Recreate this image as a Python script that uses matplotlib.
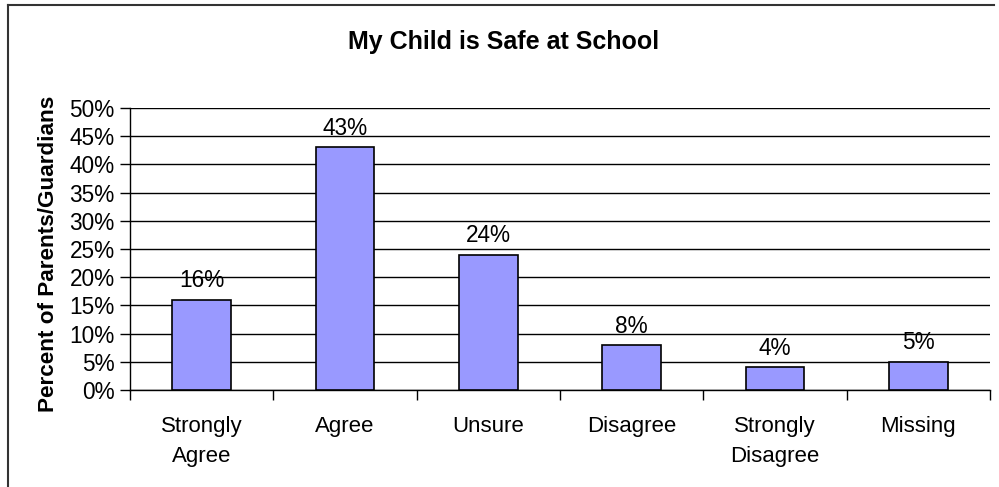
import matplotlib.pyplot as plt
from matplotlib.lines import Line2D
import numpy as np

plt.rcParams['font.family'] = ['Liberation Sans', 'DejaVu Sans']

categories = ['Strongly\nAgree', 'Agree', 'Unsure', 'Disagree', 'Strongly\nDisagree', 'Missing']
percents = [16, 43, 24, 8, 4, 5]
yticks = [0, 5, 10, 15, 20, 25, 30, 35, 40, 45, 50]

fig = plt.figure(figsize=(9.99, 4.87), dpi=100)
ax = fig.add_axes([0.1301, 0.1992, 0.861, 0.579])

x = np.arange(len(categories))
ax.bar(x, percents, width=0.41, color='#9999FF', edgecolor='black', linewidth=1.2, zorder=3)

for xi, v in zip(x, percents):
    ax.text(xi, v + 1.3, f'{v}%', ha='center', va='bottom', fontsize=16.3)

ax.set_xlim(-0.5, len(categories) - 0.5)
ax.set_ylim(0, 50)
ax.set_yticks(yticks)
ax.set_yticklabels([f'{t}%' for t in yticks], fontsize=16.3)
ax.yaxis.grid(True, color='black', linewidth=1)
ax.set_axisbelow(True)

ax.set_xticks(x)
ax.set_xticklabels(categories, fontsize=16, linespacing=1.55)
ax.set_xticks(np.arange(len(categories) + 1) - 0.5, minor=True)
ax.tick_params(axis='x', which='major', length=0, pad=19)
ax.tick_params(axis='x', which='minor', length=7, width=1, direction='out')
ax.tick_params(axis='y', length=7, width=1, direction='out', pad=4)

for side in ['top', 'right']:
    ax.spines[side].set_visible(False)
ax.spines['left'].set_linewidth(1)
ax.spines['bottom'].set_linewidth(1)

ax.set_ylabel('Percent of Parents/Guardians', fontsize=16.2, fontweight='bold')
ax.yaxis.set_label_coords(-0.083, 0.482)
fig.text(0.504, 1 - 42 / 487, 'My Child is Safe at School', ha='center', va='center',
         fontsize=18, fontweight='bold')

# chart area frame (left and top edges)
fig.add_artist(Line2D([8 / 999, 8 / 999], [0, 1 - 5 / 487], color='#333333', linewidth=1.5))
fig.add_artist(Line2D([8 / 999, 994 / 999], [1 - 5 / 487, 1 - 5 / 487], color='#333333', linewidth=1.5))

fig.savefig('out.png', dpi=100)
